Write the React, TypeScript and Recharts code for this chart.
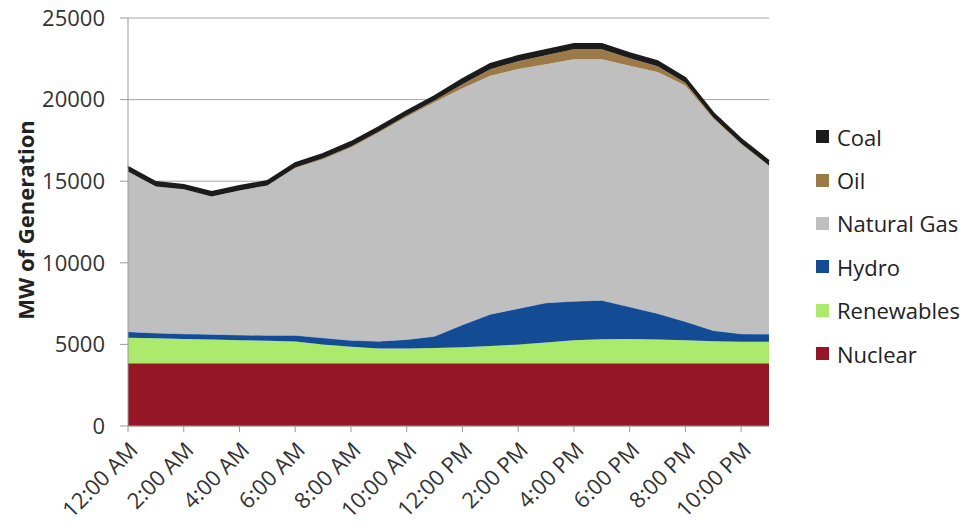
import { Area, AreaChart, CartesianGrid, XAxis, YAxis } from "recharts"

const hours = [
  "12:00 AM", "1:00 AM", "2:00 AM", "3:00 AM", "4:00 AM", "5:00 AM",
  "6:00 AM", "7:00 AM", "8:00 AM", "9:00 AM", "10:00 AM", "11:00 AM",
  "12:00 PM", "1:00 PM", "2:00 PM", "3:00 PM", "4:00 PM", "5:00 PM",
  "6:00 PM", "7:00 PM", "8:00 PM", "9:00 PM", "10:00 PM", "11:00 PM",
]

const nuclear = [
  3850, 3850, 3850, 3850, 3850, 3850, 3850, 3850, 3850, 3850, 3850, 3850,
  3850, 3850, 3850, 3850, 3850, 3850, 3850, 3850, 3850, 3850, 3850, 3850,
]
const renewables = [
  1560, 1530, 1480, 1450, 1410, 1370, 1330, 1150, 1000, 900, 900, 930,
  970, 1050, 1150, 1270, 1400, 1470, 1480, 1450, 1400, 1350, 1320, 1310,
]
const hydro = [
  370, 320, 320, 320, 320, 340, 380, 400, 400, 450, 550, 720,
  1380, 1950, 2200, 2430, 2400, 2380, 1970, 1600, 1150, 650, 480, 470,
]
const naturalGas = [
  9820, 8980, 8850, 8450, 8850, 9180, 10250, 10950, 11820, 12780, 13650, 14330,
  14490, 14610, 14670, 14620, 14830, 14780, 14780, 14790, 14460, 12990, 11630, 10310,
]
const oil = [
  0, 0, 0, 0, 0, 0, 30, 50, 60, 70, 80, 120,
  250, 400, 480, 550, 600, 600, 450, 350, 180, 60, 30, 20,
]
const coal = [
  270, 270, 270, 270, 270, 270, 270, 270, 270, 270, 270, 270,
  320, 320, 320, 320, 320, 320, 320, 320, 280, 280, 280, 280,
]

const yTicks = [0, 5000, 10000, 15000, 20000, 25000]

// stack order bottom -> top
const series = [
  { key: "nuclear", name: "Nuclear", color: "#951726" },
  { key: "renewables", name: "Renewables", color: "#abea6c" },
  { key: "hydro", name: "Hydro", color: "#134c95" },
  { key: "naturalGas", name: "Natural Gas", color: "#bfbfbf" },
  { key: "oil", name: "Oil", color: "#9c7a47" },
  { key: "coal", name: "Coal", color: "#1c1c1c" },
]

const data = hours.map((time, i) => ({
  time,
  nuclear: nuclear[i],
  renewables: renewables[i],
  hydro: hydro[i],
  naturalGas: naturalGas[i],
  oil: oil[i],
  coal: coal[i],
}))

const FONT = "'Open Sans', sans-serif"

const XTick = ({ x, y, payload }: any) => (
  <g transform={`translate(${x},${y})`}>
    <text
      x={-3}
      y={19}
      textAnchor="end"
      transform="rotate(-45)"
      fill="#333"
      fontSize={22}
      fontFamily={FONT}
    >
      {payload.value}
    </text>
  </g>
)

const YLabel = () => (
  <text
    x={25}
    y={220}
    transform="rotate(-90 25 220)"
    textAnchor="middle"
    dominantBaseline="central"
    fill="#222"
    fontSize={22}
    fontWeight="bold"
    fontFamily={FONT}
  >
    MW of Generation
  </text>
)

export default function App() {
  return (
    <div style={{ position: "absolute", left: 0, top: 0, width: 964, height: 525, background: "#fff" }}>
      <AreaChart width={964} height={525} data={data} margin={{ top: 18, right: 195, bottom: 0, left: 0 }}>
        <CartesianGrid vertical={false} stroke="#a6a6a6" />
        <XAxis
          dataKey="time"
          interval={1}
          tick={<XTick />}
          tickSize={6}
          tickMargin={4}
          stroke="#999"
          height={99}
        />
        <YAxis
          domain={[0, 25000]}
          ticks={yTicks}
          width={128}
          tickSize={8}
          tickMargin={15}
          stroke="#999"
          tick={{ fill: "#333", fontSize: 22, fontFamily: FONT }}
          label={YLabel}
        />
        {series.map((s) => (
          <Area
            key={s.key}
            type="linear"
            dataKey={s.key}
            name={s.name}
            stackId="gen"
            fill={s.color}
            fillOpacity={1}
            stroke={s.key === "coal" ? "#1c1c1c" : s.key === "hydro" ? "#7fa3d4" : "none"}
            strokeWidth={s.key === "coal" ? 2 : 1}
            isAnimationActive={false}
            dot={false}
            activeDot={false}
          />
        ))}
      </AreaChart>
      <div style={{ position: "absolute", left: 816, top: 115, fontFamily: FONT, fontSize: 22, color: "#222" }}>
        {[...series].reverse().map((s) => (
          <div key={s.key} style={{ height: 43.4, display: "flex", alignItems: "center" }}>
            <span
              style={{ width: 13, height: 13, background: s.color, display: "inline-block", marginRight: 8 }}
            />
            <span>{s.name}</span>
          </div>
        ))}
      </div>
    </div>
  )
}
